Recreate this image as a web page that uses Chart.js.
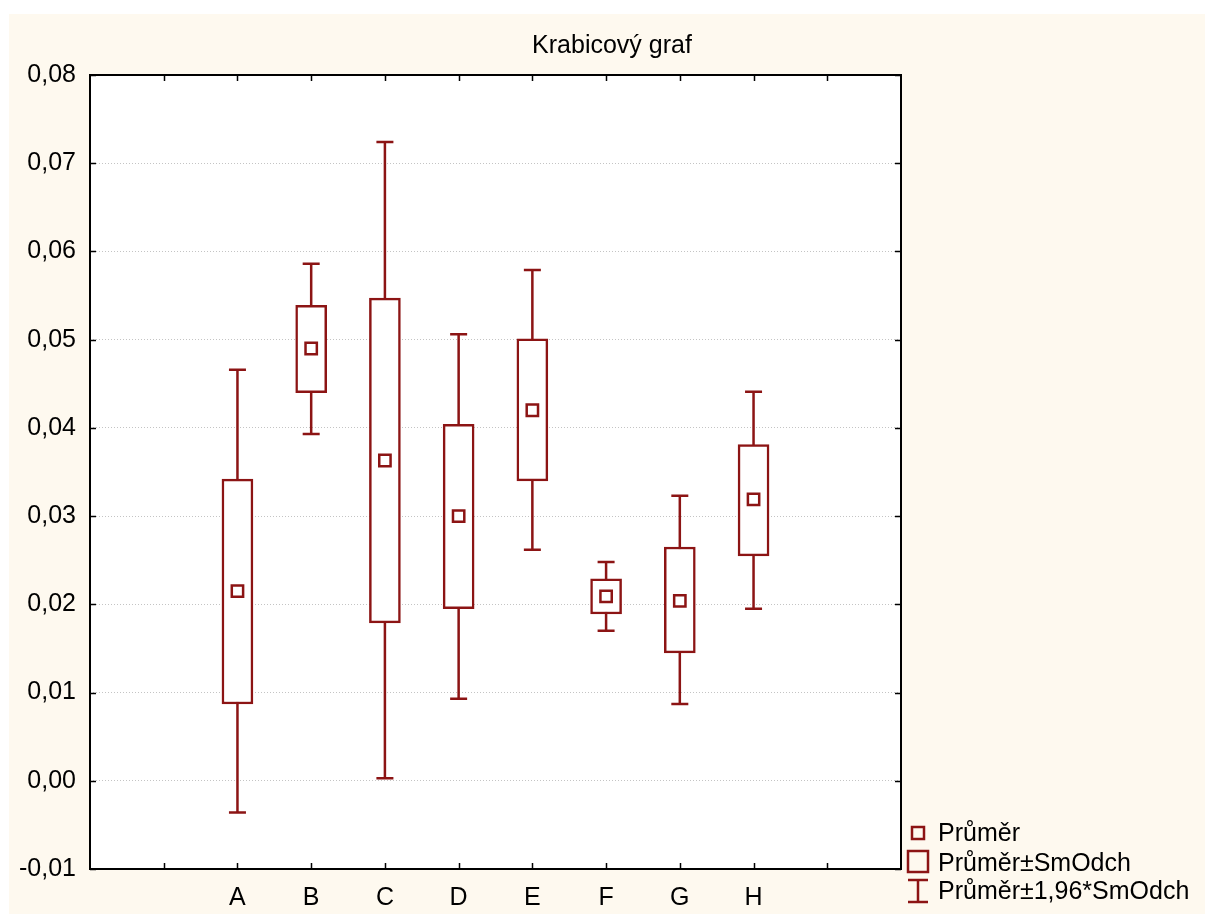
<!DOCTYPE html>
<html>
<head>
<meta charset="utf-8">
<script src="https://cdn.jsdelivr.net/npm/chart.js@4/dist/chart.umd.min.js"></script>
<style>
  html, body { margin: 0; padding: 0; background: #ffffff; }
  #wrap { width: 1205px; height: 914px; }
</style>
</head>
<body>
<div id="wrap"><canvas id="boxChart" width="1205" height="914"></canvas></div>
<script>
// Data
const categories = ['A', 'B', 'C', 'D', 'E', 'F', 'G', 'H'];
const categoryPos = [2, 3, 4, 5, 6, 7, 8, 9];
const means       = [0.0215, 0.0490, 0.0363, 0.0300, 0.0420, 0.0209, 0.0204, 0.0319];
const boxHigh     = [0.0342, 0.0539, 0.0547, 0.0404, 0.0501, 0.0229, 0.0265, 0.0381];
const boxLow      = [0.0087, 0.0440, 0.0179, 0.0195, 0.0340, 0.0189, 0.0145, 0.0255];
const whiskerHigh = [0.0466, 0.0586, 0.0724, 0.0506, 0.0579, 0.0248, 0.0323, 0.0441];
const whiskerLow  = [-0.0036, 0.0393, 0.0003, 0.0093, 0.0262, 0.0170, 0.0087, 0.0195];
const yTicks = [-0.01, 0.00, 0.01, 0.02, 0.03, 0.04, 0.05, 0.06, 0.07, 0.08];

const titleText = 'Krabicový graf';
const legendLabels = ['Průměr', 'Průměr±SmOdch', 'Průměr±1,96*SmOdch'];

const RED = '#8c1414';
const CREAM = '#fef9ef';
const FONT = '"Liberation Sans", Arial, sans-serif';
const LW = 2.5;

const fmt = (v) => (Math.abs(v) < 1e-9 ? 0 : v).toFixed(2).replace('.', ',');

// Background, frame, inward ticks, whiskers, title and legend
const decorPlugin = {
  id: 'decor',
  beforeDraw(chart) {
    const { ctx, chartArea: a } = chart;
    ctx.save();
    ctx.fillStyle = CREAM;
    ctx.fillRect(9, 14, chart.width - 9, chart.height - 14);
    ctx.fillStyle = '#ffffff';
    ctx.fillRect(a.left, a.top, a.right - a.left, a.bottom - a.top);
    ctx.restore();
  },
  beforeDatasetsDraw(chart) {
    const { ctx } = chart;
    const x = chart.scales.x, y = chart.scales.y;
    ctx.save();
    ctx.strokeStyle = RED;
    ctx.lineWidth = LW;
    categoryPos.forEach((p, i) => {
      const px = x.getPixelForValue(p);
      const top = y.getPixelForValue(whiskerHigh[i]);
      const bot = y.getPixelForValue(whiskerLow[i]);
      ctx.beginPath();
      ctx.moveTo(px, top); ctx.lineTo(px, bot);
      ctx.moveTo(px - 8.5, top); ctx.lineTo(px + 8.5, top);
      ctx.moveTo(px - 8.5, bot); ctx.lineTo(px + 8.5, bot);
      ctx.stroke();
    });
    ctx.restore();
  },
  afterDraw(chart) {
    const { ctx, chartArea: a } = chart;
    const x = chart.scales.x, y = chart.scales.y;
    ctx.save();
    // frame
    ctx.strokeStyle = '#000000';
    ctx.lineWidth = 2;
    ctx.strokeRect(a.left, a.top, a.right - a.left, a.bottom - a.top);
    // inward ticks
    ctx.lineWidth = 1.5;
    ctx.beginPath();
    for (let k = 1; k <= 10; k++) {
      const px = Math.round(x.getPixelForValue(k)) + 0.5;
      ctx.moveTo(px, a.bottom); ctx.lineTo(px, a.bottom - 6);
      ctx.moveTo(px, a.top); ctx.lineTo(px, a.top + 6);
    }
    yTicks.forEach((v) => {
      const py = Math.round(y.getPixelForValue(v)) + 0.5;
      ctx.moveTo(a.left, py); ctx.lineTo(a.left + 6, py);
      ctx.moveTo(a.right, py); ctx.lineTo(a.right - 6, py);
    });
    ctx.stroke();

    // title
    ctx.fillStyle = '#000000';
    ctx.font = '25px ' + FONT;
    ctx.textAlign = 'center';
    ctx.textBaseline = 'alphabetic';
    ctx.fillText(titleText, 612, 53);

    // legend
    const lx = 918;
    ctx.textAlign = 'left';
    ctx.strokeStyle = RED;
    ctx.lineWidth = LW;
    ctx.strokeRect(lx - 6, 827, 12, 12);
    ctx.strokeRect(lx - 10, 851, 20, 21);
    ctx.beginPath();
    ctx.moveTo(lx, 880); ctx.lineTo(lx, 902);
    ctx.moveTo(lx - 10, 880); ctx.lineTo(lx + 10, 880);
    ctx.moveTo(lx - 10, 902); ctx.lineTo(lx + 10, 902);
    ctx.stroke();
    ctx.fillStyle = '#000000';
    ctx.fillText(legendLabels[0], 938, 841);
    ctx.fillText(legendLabels[1], 938, 871);
    ctx.fillText(legendLabels[2], 938, 899);
    ctx.restore();
  }
};

const ctx = document.getElementById('boxChart').getContext('2d');
new Chart(ctx, {
  data: {
    datasets: [
      {
        type: 'bar',
        label: legendLabels[1],
        data: categoryPos.map((p, i) => ({ x: p, y: [boxLow[i], boxHigh[i]] })),
        backgroundColor: '#ffffff',
        borderColor: RED,
        borderWidth: LW,
        borderSkipped: false,
        barThickness: 31,
        order: 2
      },
      {
        type: 'scatter',
        label: legendLabels[0],
        data: categoryPos.map((p, i) => ({ x: p, y: means[i] })),
        pointStyle: 'rect',
        pointRadius: 8,
        pointBackgroundColor: '#ffffff',
        pointBorderColor: RED,
        pointBorderWidth: LW,
        order: 1
      }
    ]
  },
  options: {
    responsive: false,
    animation: false,
    layout: { padding: { top: 75, right: 304, bottom: 0, left: 0 } },
    plugins: {
      legend: { display: false },
      title: { display: false },
      tooltip: { enabled: false }
    },
    scales: {
      x: {
        type: 'linear',
        min: 0,
        max: 11,
        offset: false,
        afterFit: (scale) => { scale.height = 45; },
        afterBuildTicks: (scale) => {
          scale.ticks = categoryPos.map((p) => ({ value: p }));
        },
        ticks: {
          autoSkip: false,
          maxRotation: 0,
          padding: 14,
          color: '#000000',
          font: { family: FONT, size: 25 },
          callback: (v) => categories[categoryPos.indexOf(v)] || ''
        },
        grid: { display: false, drawTicks: false, offset: false },
        border: { display: false }
      },
      y: {
        type: 'linear',
        min: -0.01,
        max: 0.08,
        afterFit: (scale) => { scale.width = 90; },
        afterBuildTicks: (scale) => {
          scale.ticks = yTicks.map((v) => ({ value: v }));
        },
        ticks: {
          padding: 14,
          color: '#000000',
          font: { family: FONT, size: 25 },
          callback: (v) => fmt(v)
        },
        grid: { color: '#c4c4c4', lineWidth: 1, drawTicks: false },
        border: { display: false, dash: [1, 2] }
      }
    }
  },
  plugins: [decorPlugin]
});
</script>
</body>
</html>
